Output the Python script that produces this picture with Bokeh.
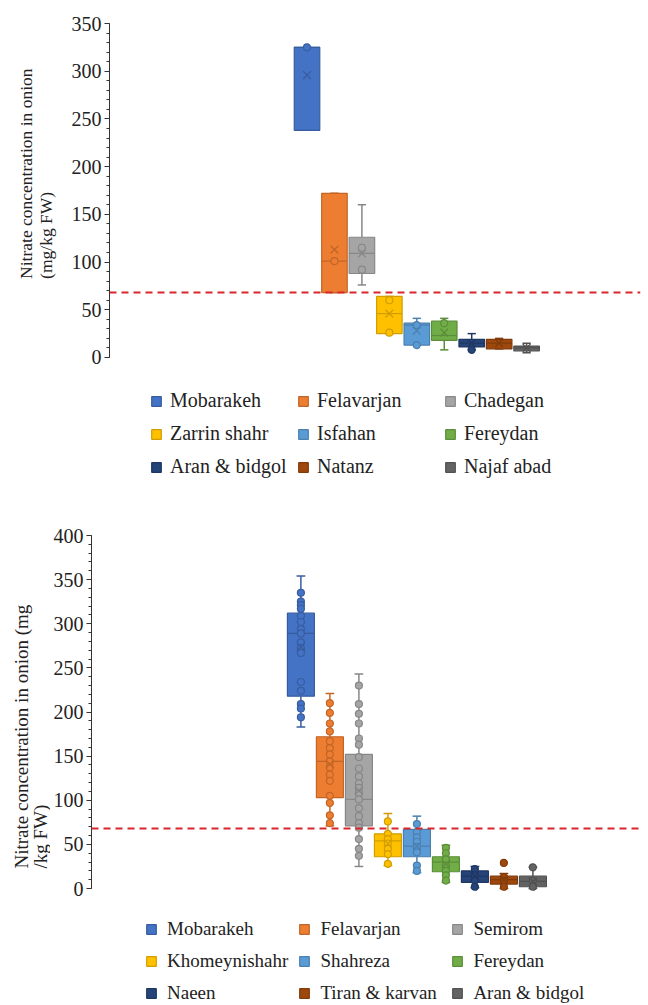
import math
from bokeh.plotting import figure
from bokeh.models import (Range1d, Span, Label, Legend, LegendItem,
                          SingleIntervalTicker, ColumnDataSource)
from bokeh.layouts import column, row
from bokeh.embed import file_html
from bokeh.resources import INLINE

# ---------------- data: upper chart ----------------
top_sites = ["Mobarakeh", "Felavarjan", "Chadegan", "Zarrin shahr", "Isfahan",
             "Fereydan", "Aran & bidgol", "Natanz", "Najaf abad"]
top_q1 = [238, 68, 88, 25, 13, 18, 11, 9, 7]
top_q3 = [325, 172, 126, 64, 36, 38, 19, 19, 12]
top_median = [325, 101, 109, 46, 34, 23, 15, 15, 10]
top_mean = [296, 113, 109, 46, 28, 26, 15, 15, 10]
top_low = [238, 68, 76, 25, 13, 8, 8, 9, 5]
top_high = [325, 172, 160, 64, 41, 41, 25, 20, 15]
top_points = [[325], [101], [115, 92], [60, 26], [34, 13], [36], [8], [], []]

# ---------------- data: lower chart ----------------
bot_sites = ["Mobarakeh", "Felavarjan", "Semirom", "Khomeynishahr", "Shahreza",
             "Fereydan", "Naeen", "Tiran & karvan", "Aran & bidgol"]
bot_q1 = [218, 103, 71, 36, 36, 19, 7, 5, 2]
bot_q3 = [312, 172, 152, 62, 67, 36, 20, 14, 14]
bot_median = [289, 144, 101, 54, 48, 30, 14, 10, 8]
bot_mean = [274, 141, 111, 51, 48, 28, 14, 10, 8]
bot_low = [183, 71, 25, 26, 18, 7, 1, 0, 0]
bot_high = [354, 221, 243, 85, 82, 49, 25, 17, 24]
bot_points = [
    [335, 325, 321, 317, 309, 302, 294, 289, 279, 272, 267, 234, 224, 209, 204, 194],
    [210, 199, 187, 178, 167, 159, 152, 144, 137, 129, 122, 105, 97, 83, 74],
    [230, 209, 198, 187, 170, 163, 149, 136, 127, 119, 114, 108, 101, 91, 82, 74, 69, 56, 45, 37],
    [76, 62, 56, 51, 45, 39, 28],
    [73, 64, 58, 53, 47, 41, 26, 20],
    [46, 40, 33, 26, 20, 15, 9],
    [22, 15, 9, 2],
    [29, 13, 9, 2],
    [24, 9, 2],
]

limit = 68

palette = ["#4472C4", "#ED7D31", "#A5A5A5", "#FFC000", "#5B9BD5",
           "#70AD47", "#264478", "#9E480E", "#636363"]

FONT = "Liberation Serif"


def darker(c, f=0.82):
    r, g, b = int(c[1:3], 16), int(c[3:5], 16), int(c[5:7], 16)
    return "#%02x%02x%02x" % (int(r * f), int(g * f), int(b * f))


def label_fig(width, height, lines, size, xs, y):
    f = figure(width=width, height=height, output_backend="svg",
               toolbar_location=None, x_axis_location=None, y_axis_location=None,
               x_range=Range1d(0, width), y_range=Range1d(0, height),
               min_border=0)
    f.outline_line_color = None
    f.grid.visible = False
    for k, line in enumerate(lines):
        f.add_layout(Label(x=xs[k], y=y, text=line, angle=math.pi / 2,
                           text_align="left", text_baseline="middle",
                           text_font=FONT, text_font_size=size,
                           text_color="#222222"))
    return f


def build(sites, q1, q3, med, mean, lo, hi, pts, y_end, y_start, xr, width, height,
          b_left, b_top, leg_loc, leg_font, leg_standoff, leg_spacing, leg_lw):
    n = len(sites)
    xs = list(range(n))
    cols = palette[:n]
    dk = [darker(c) for c in cols]
    w = 0.93
    cap = 0.3
    p = figure(width=width, height=height, output_backend="svg",
               toolbar_location=None, x_axis_location=None,
               x_range=Range1d(*xr), y_range=Range1d(y_start, y_end),
               min_border_left=b_left, min_border_right=8,
               min_border_top=b_top, min_border_bottom=0)
    p.outline_line_color = None
    p.grid.visible = False

    src = ColumnDataSource(dict(x=xs, q1=q1, q3=q3, med=med, mean=mean,
                                lo=lo, hi=hi, c=cols, d=dk,
                                cl=[x - cap / 2 for x in xs],
                                cr=[x + cap / 2 for x in xs],
                                ml=[x - w / 2 for x in xs],
                                mr=[x + w / 2 for x in xs]))
    p.segment(x0="x", y0="q3", x1="x", y1="hi", source=src, line_color="d", line_width=1.5)
    p.segment(x0="x", y0="q1", x1="x", y1="lo", source=src, line_color="d", line_width=1.5)
    p.segment(x0="cl", y0="hi", x1="cr", y1="hi", source=src, line_color="d", line_width=1.5)
    p.segment(x0="cl", y0="lo", x1="cr", y1="lo", source=src, line_color="d", line_width=1.5)
    boxes = p.vbar(x="x", bottom="q1", top="q3", width=w, source=src,
                   fill_color="c", line_color="d", line_width=1.2)
    p.segment(x0="ml", y0="med", x1="mr", y1="med", source=src, line_color="d", line_width=1.2)
    px, py, pc, pd = [], [], [], []
    for i, vals in enumerate(pts):
        for v in vals:
            px.append(i)
            py.append(v)
            pc.append(cols[i])
            pd.append(dk[i])
    p.scatter(x=px, y=py, size=7, marker="circle", fill_color=pc, line_color=pd, line_width=1.2)
    p.scatter(x="x", y="mean", source=src, marker="x", size=11, line_color="d", line_width=1.3)

    p.add_layout(Span(location=limit, dimension="width", line_color="#d9262b",
                      line_dash="7 5", line_width=2))

    ax = p.yaxis[0]
    ax.bounds = (0, y_end)
    ax.ticker = SingleIntervalTicker(interval=50, num_minor_ticks=5)
    ax.axis_line_color = "#333333"
    ax.major_tick_line_color = "#333333"
    ax.minor_tick_line_color = "#333333"
    ax.major_tick_in = 0
    ax.major_tick_out = 5
    ax.minor_tick_in = 0
    ax.minor_tick_out = 3
    ax.major_label_standoff = 3
    ax.major_label_text_font = FONT
    ax.major_label_text_font_size = "20px"
    ax.major_label_text_color = "#222222"

    items = [LegendItem(label=s, renderers=[boxes], index=i) for i, s in enumerate(sites)]
    leg = Legend(items=items, location=leg_loc, ncols=3, orientation="horizontal",
                 glyph_width=12, glyph_height=12, label_standoff=leg_standoff,
                 spacing=leg_spacing, padding=0, margin=0,
                 border_line_alpha=0, background_fill_alpha=0,
                 label_text_font=FONT, label_text_font_size=leg_font,
                 label_text_color="#222222", label_height=20, label_width=leg_lw)
    p.add_layout(leg)
    return p


top_lab = label_fig(68, 490, ["Nitrate concentration in onion", "(mg/kg FW)"],
                    "17.5px", [25, 45], 222)
top = build(top_sites, top_q1, top_q3, top_median, top_mean, top_low, top_high,
            top_points, 350, -139.4, (-7.195, 12.149), 580, 490, 41, 23,
            (41, 12), "20px", 8, 10, 117)

bot_lab = label_fig(50, 514, ["Nitrate concentration in onion (mg", "/kg FW)"],
                    "19px", [21, 40], 149)
bottom = build(bot_sites, bot_q1, bot_q3, bot_median, bot_mean, bot_low, bot_high,
               bot_points, 400, -131.4, (-7.22, 11.71), 598, 514, 41, 45,
               (54, 0), "19px", 10, 10, 121)

layout = column(row(top_lab, top, spacing=0), row(bot_lab, bottom, spacing=0), spacing=0)
open("out.html", "w").write(file_html(layout, INLINE))
